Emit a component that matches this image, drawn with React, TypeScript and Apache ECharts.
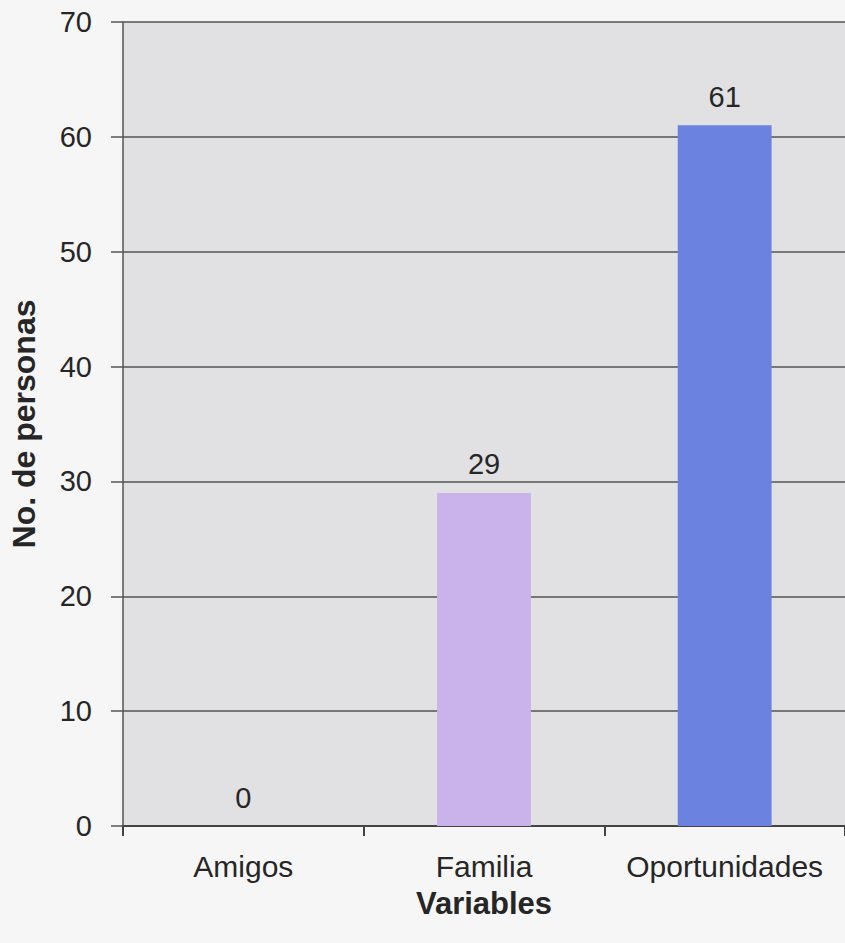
import React, { useEffect, useRef } from "react";
import * as echarts from "echarts";

const categories = ["Amigos", "Familia", "Oportunidades"];
const values = [0, 29, 61];
const barColors = ["#c9b3ea", "#c9b3ea", "#6c82e0"];
const yTicks = [0, 10, 20, 30, 40, 50, 60, 70];

export default function App() {
  const ref = useRef<HTMLDivElement>(null);
  useEffect(() => {
    if (!ref.current) return;
    const chart = echarts.init(ref.current, undefined, { renderer: "svg" });
    const font = "Liberation Sans, Arial, sans-serif";
    chart.setOption({
      animation: false,
      backgroundColor: "#f6f6f6",
      textStyle: { fontFamily: font },
      grid: {
        left: 121,
        right: 0,
        top: 22,
        bottom: 117,
        show: true,
        backgroundColor: "#e1e0e3",
        borderWidth: 0,
      },
      xAxis: {
        type: "category",
        data: categories,
        name: "Variables",
        nameLocation: "middle",
        nameGap: 62,
        nameTextStyle: { fontSize: 31, fontWeight: "bold", color: "#262626", fontFamily: font },
        axisLine: { show: true, lineStyle: { color: "#444", width: 2 } },
        axisTick: { show: true, interval: 0, alignWithLabel: false, length: 10, lineStyle: { color: "#444", width: 2 } },
        axisLabel: { interval: 0, hideOverlap: false, fontSize: 30, color: "#262626", margin: 25, fontFamily: font },
        splitLine: { show: false },
      },
      yAxis: {
        type: "value",
        min: yTicks[0],
        max: yTicks[yTicks.length - 1],
        interval: 10,
        name: "No. de personas",
        nameLocation: "middle",
        nameGap: 83,
        nameTextStyle: { fontSize: 32, fontWeight: "bold", color: "#262626", fontFamily: font },
        axisLine: { show: true, lineStyle: { color: "#555", width: 1.5 } },
        axisTick: { show: true, length: 12, lineStyle: { color: "#555", width: 1.5 } },
        axisLabel: { fontSize: 29, color: "#262626", margin: 31, fontFamily: font },
        splitLine: { show: true, lineStyle: { color: "#555", width: 1.5 } },
      },
      series: [
        {
          type: "bar",
          barWidth: "39%",
          data: values.map((v, i) => ({ value: v, itemStyle: { color: barColors[i] } })),
          label: {
            show: true,
            position: "top",
            distance: 14,
            fontSize: 29,
            color: "#262626",
            fontFamily: font,
          },
        },
      ],
    });
    return () => chart.dispose();
  }, []);
  return (
    <div
      ref={ref}
      style={{ position: "fixed", left: 0, top: 0, width: 845, height: 943 }}
    />
  );
}
